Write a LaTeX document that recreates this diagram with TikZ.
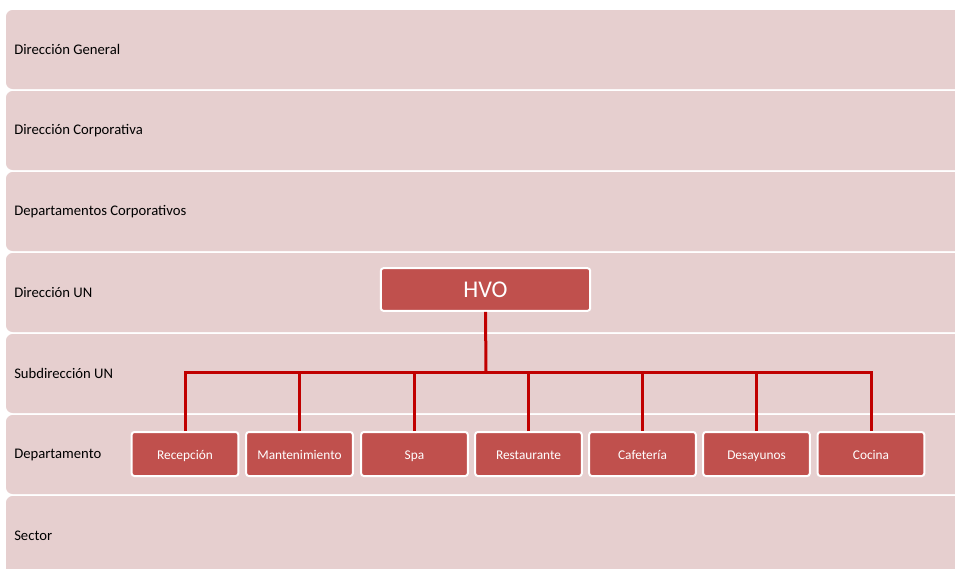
\documentclass[tikz,border=0pt]{standalone}
\usepackage{fontspec}
\setmainfont{Carlito}
\usetikzlibrary{positioning}
\definecolor{bandfill}{HTML}{E6CFCF}
\definecolor{boxfill}{HTML}{C0504D}
\definecolor{linkred}{HTML}{C00000}
\tikzset{
  banda/.style={fill=bandfill, rounded corners=5pt},
  etiqueta/.style={anchor=west, inner sep=0pt, font=\fontsize{11}{13}\selectfont},
  caja/.style={draw=white, line width=1.5pt, fill=boxfill, rounded corners=2pt,
    text=white, minimum width=80pt, minimum height=33pt, inner sep=1pt,
    text height=9.5pt, text depth=2pt, font=\fontsize{10}{12}\selectfont},
  enlace/.style={draw=linkred, line width=2.25pt}
}
\begin{document}
\begin{tikzpicture}[x=0.75pt,y=-0.75pt]
  \clip (0,0) rectangle (955,568);
  \fill[white] (0,0) rectangle (955,568);
  % Niveles
  \foreach \txt [count=\i] in {Dirección General, Dirección Corporativa,
      Departamentos Corporativos, Dirección UN, Subdirección UN,
      Departamento, Sector} {
    \pgfmathsetmacro\ytop{10+81*(\i-1)}
    \fill[banda] (6,\ytop) rectangle (975,\ytop+79);
    \node[etiqueta] (nivel\i) at (14,\ytop+39.5) {\txt};
  }
  % Cabecera
  \node[caja, minimum width=157pt, minimum height=32pt, text height=13pt,
    text depth=1pt, font=\fontsize{18}{21}\selectfont] (hvo) at (485.5,289.5) {HVO};
  \coordinate (bus) at (486,372);
  \draw[enlace] (hvo.south) -- (bus);
  % Departamentos
  \foreach \txt/\x [count=\i] in {Recepción/185, Mantenimiento/299.5,
      Spa/414.5, Restaurante/528.5, Cafetería/642.5, Desayunos/756.5,
      Cocina/871} {
    \node[caja] (dep\i) at (\x,454) {\txt};
    \draw[enlace] (dep\i.north) |- (bus);
  }
\end{tikzpicture}
\end{document}
